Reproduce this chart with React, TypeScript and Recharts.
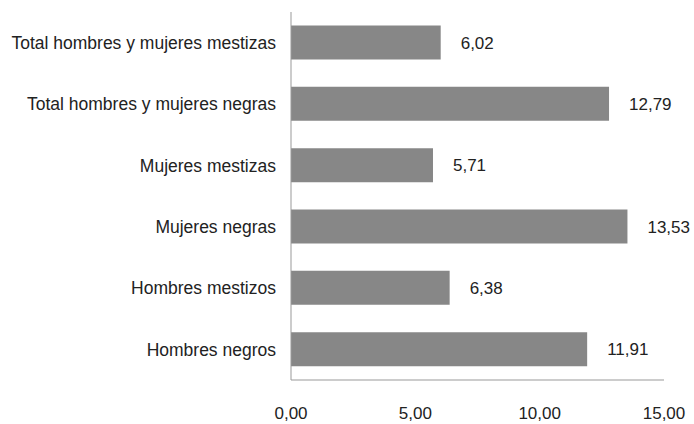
import React from 'react';
import { BarChart, Bar, XAxis, YAxis, LabelList } from 'recharts';

const CATEGORIES = [
  'Total hombres y mujeres mestizas',
  'Total hombres y mujeres negras',
  'Mujeres mestizas',
  'Mujeres negras',
  'Hombres mestizos',
  'Hombres negros',
];
const VALUES = [6.02, 12.79, 5.71, 13.53, 6.38, 11.91];
const X_TICKS = [0, 5, 10, 15];

const DATA = CATEGORIES.map((name, i) => ({ name, value: VALUES[i] }));

const fmt = (v: number) => v.toFixed(2).replace('.', ',');

export default function App() {
  return (
    <div style={{ position: 'absolute', left: 0, top: 0, background: '#fff', fontFamily: '"Liberation Sans", Arial, sans-serif' }}>
      <BarChart
        width={694}
        height={424}
        data={DATA}
        layout="vertical"
        margin={{ top: 12, right: 30, bottom: 0, left: 0 }}
        barCategoryGap="22%"
      >
        <XAxis
          type="number"
          domain={[0, 15]}
          ticks={X_TICKS}
          tickFormatter={fmt}
          tickLine={false}
          axisLine={{ stroke: '#999' }}
          tick={{ fill: '#222', fontSize: 17 }}
          tickMargin={21}
          height={44}
        />
        <YAxis
          type="category"
          dataKey="name"
          width={291}
          tickLine={false}
          axisLine={{ stroke: '#999' }}
          tick={{ fill: '#222', fontSize: 17.5 }}
          tickMargin={9}
        />
        <Bar dataKey="value" fill="#878787" isAnimationActive={false}>
          <LabelList
            dataKey="value"
            position="right"
            offset={20}
            formatter={(v: any) => fmt(Number(v))}
            style={{ fill: '#222', fontSize: 17 }}
          />
        </Bar>
      </BarChart>
    </div>
  );
}
